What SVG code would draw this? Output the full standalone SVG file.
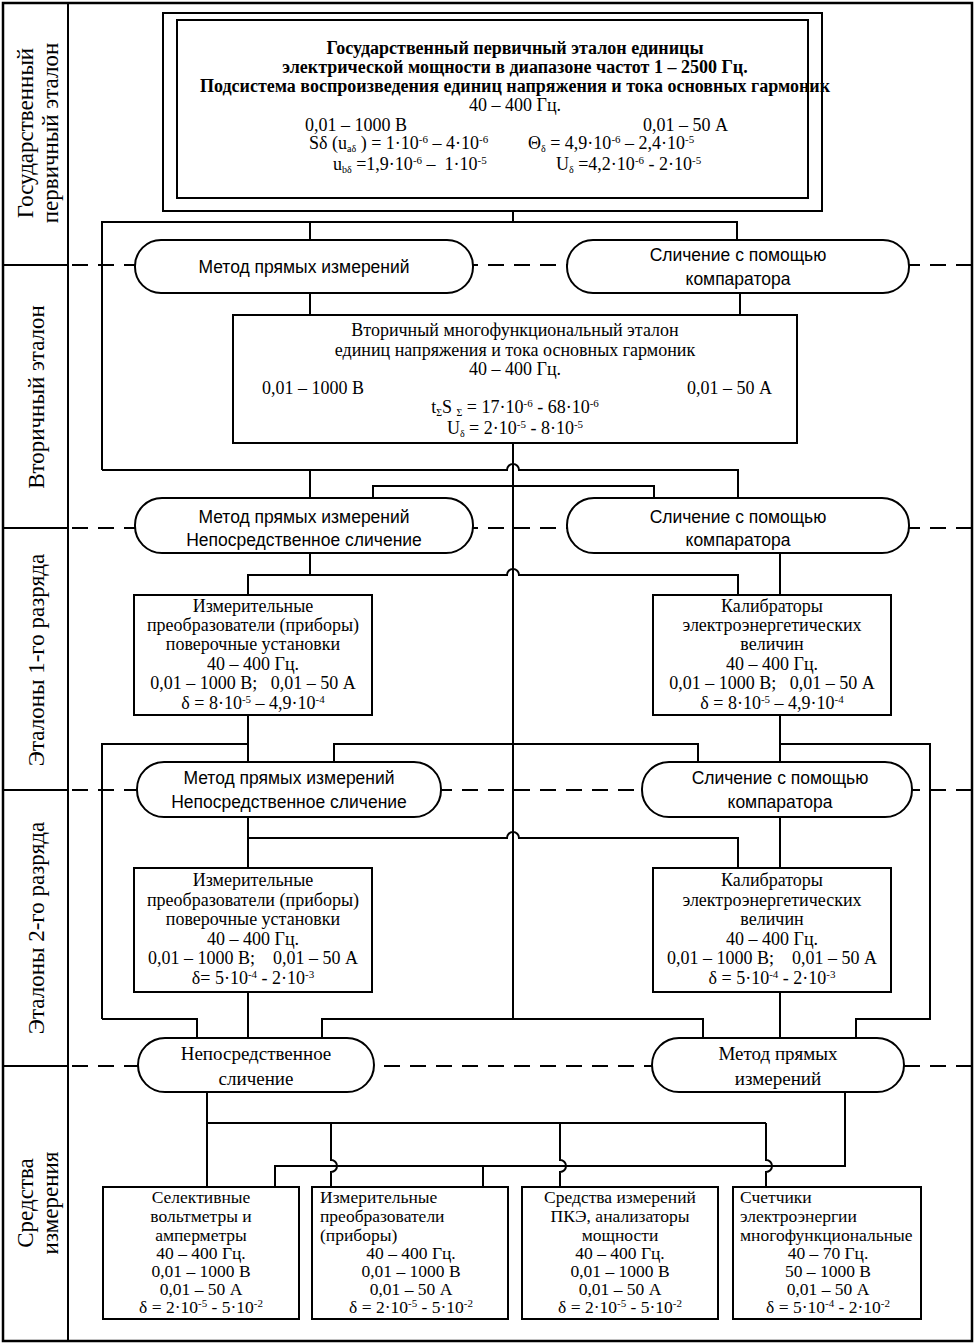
<svg xmlns="http://www.w3.org/2000/svg" width="975" height="1344" viewBox="0 0 975 1344">
<style>
.bx{fill:#fff;stroke:#000;stroke-width:2}
.pl{fill:#fff;stroke:#000;stroke-width:2}
.cn{fill:none;stroke:#000;stroke-width:2}
.ds{fill:none;stroke:#000;stroke-width:2;stroke-dasharray:16 10}
.sf{font-family:'Liberation Serif','Times New Roman',serif;font-size:18px;fill:#000}
.tb{font-family:'Liberation Serif','Times New Roman',serif;font-size:18px;fill:#000}
.bd{font-weight:bold}
.ss{font-family:'Liberation Sans',Arial,sans-serif;font-size:17.5px;fill:#000}
.lb{font-family:'Liberation Serif','Times New Roman',serif;font-size:23px;fill:#000}
.bt{font-family:'Liberation Serif','Times New Roman',serif;font-size:17.5px;fill:#000}
.pt{font-family:'Liberation Serif','Times New Roman',serif;font-size:19px;fill:#000}
.sm{font-size:11px}
.sb{font-size:10px}
.c{text-anchor:middle}
.e{text-anchor:end}
</style>

<g id="frame">
<rect x="3" y="3" width="969" height="1338" fill="#fff" stroke="#000" stroke-width="2.5"/>
<line x1="68" y1="3" x2="68" y2="1341" stroke="#000" stroke-width="2"/>
<path d="M3 265H68M3 528H68M3 790H68M3 1066H68" stroke="#000" stroke-width="2"/>
<path class="ds" d="M72 265H972M72 528H972M72 790H972M72 1066H972"/>
</g>

<g id="row-labels" class="lb c">
<text transform="translate(33,133) rotate(-90)">Государственный</text>
<text transform="translate(58,133) rotate(-90)">первичный эталон</text>
<text transform="translate(44,397) rotate(-90)">Вторичный эталон</text>
<text transform="translate(44,660) rotate(-90)">Эталоны 1-го разряда</text>
<text transform="translate(44,928) rotate(-90)">Эталоны 2-го разряда</text>
<text transform="translate(33,1203) rotate(-90)">Средства</text>
<text transform="translate(58,1203) rotate(-90)">измерения</text>
</g>

<g id="connectors" class="cn">
<path d="M513 211V222"/>
<path d="M102 470V222H737V240"/>
<path d="M310 222V240"/>
<path d="M102 470H507A6 6 0 0 1 519 470H738V498"/>
<path d="M310 470V498"/>
<path d="M310 293V315"/>
<path d="M740 293V315"/>
<path d="M513 443V1019"/>
<path d="M373 498V486H654V498"/>
<path d="M310 553V575"/>
<path d="M248 595V575H507A6 6 0 0 1 519 575H738V595"/>
<path d="M780 553V595"/>
<path d="M248 715V762"/>
<path d="M102 1019V744H248"/>
<path d="M334 762V744H698V762"/>
<path d="M780 715V762"/>
<path d="M780 744H930V1019H856V1038"/>
<path d="M102 1019H197V1038"/>
<path d="M248 817V868"/>
<path d="M248 838H507A6 6 0 0 1 519 838H738V868"/>
<path d="M780 817V868"/>
<path d="M248 992V1038"/>
<path d="M322 1038V1019H703V1038"/>
<path d="M780 992V1038"/>
<path d="M207 1092V1187"/>
<path d="M207 1123H766"/>
<path d="M331 1123V1160A6 6 0 0 1 331 1172V1187"/>
<path d="M560 1123V1160A6 6 0 0 1 560 1172V1187"/>
<path d="M766 1123V1160A6 6 0 0 1 766 1172V1187"/>
<path d="M845 1092V1166H275V1187"/>
<path d="M483 1166V1187"/>
</g>

<g id="primary">
<rect class="bx" x="163" y="13" width="659" height="198"/>
<rect class="bx" x="177" y="20" width="631" height="178"/>
<g class="tb">
<text class="c bd" x="515" y="54">Государственный первичный эталон единицы</text>
<text class="c bd" x="515" y="73">электрической мощности в диапазоне частот 1 – 2500 Гц.</text>
<text class="c bd" x="515" y="92">Подсистема воспроизведения единиц напряжения и тока основных гармоник</text>
<text class="c" x="515" y="111">40 – 400 Гц.</text>
<text x="305" y="131">0,01 – 1000 В</text>
<text class="e" x="728" y="131">0,01 – 50 А</text>
<text x="309" y="149">Sδ (u<tspan dy="3" class="sb">aδ</tspan><tspan dy="-3"> ) = 1·10</tspan><tspan dy="-6" class="sm">-6</tspan><tspan dy="6"> – 4·10</tspan><tspan dy="-6" class="sm">-6</tspan></text>
<text x="528" y="149">Θ<tspan dy="3" class="sb">δ</tspan><tspan dy="-3"> = 4,9·10</tspan><tspan dy="-6" class="sm">-6</tspan><tspan dy="6"> – 2,4·10</tspan><tspan dy="-6" class="sm">-5</tspan></text>
<text x="333" y="170" xml:space="preserve">u<tspan dy="3" class="sb">bδ</tspan><tspan dy="-3"> =1,9·10</tspan><tspan dy="-6" class="sm">-6</tspan><tspan dy="6"> –  1·10</tspan><tspan dy="-6" class="sm">-5</tspan></text>
<text x="556" y="170">U<tspan dy="3" class="sb">δ</tspan><tspan dy="-3"> =4,2·10</tspan><tspan dy="-6" class="sm">-6</tspan><tspan dy="6"> - 2·10</tspan><tspan dy="-6" class="sm">-5</tspan></text>
</g>
</g>

<g id="p1">
<rect class="pl" x="135" y="240" width="338" height="53" rx="26" ry="26"/>
<text class="ss c" x="304" y="273">Метод прямых измерений</text>
</g>
<g id="p2">
<rect class="pl" x="567" y="240" width="342" height="53" rx="26" ry="26"/>
<text class="ss c" x="738" y="261">Сличение с помощью</text>
<text class="ss c" x="738" y="285">компаратора</text>
</g>

<g id="secondary">
<rect class="bx" x="233" y="315" width="564" height="128"/>
<g class="sf">
<text class="c" x="515" y="336">Вторичный многофункциональный эталон</text>
<text class="c" x="515" y="356">единиц напряжения и тока основных гармоник</text>
<text class="c" x="515" y="375">40 – 400 Гц.</text>
<text x="262" y="394">0,01 – 1000 В</text>
<text class="e" x="772" y="394">0,01 – 50 А</text>
<text class="c" x="515" y="413">t<tspan dy="3" class="sb">Σ</tspan><tspan dy="-3">S </tspan><tspan dy="3" class="sb">Σ</tspan><tspan dy="-3"> = 17·10</tspan><tspan dy="-6" class="sm">-6</tspan><tspan dy="6"> - 68·10</tspan><tspan dy="-6" class="sm">-6</tspan></text>
<text class="c" x="515" y="434">U<tspan dy="3" class="sb">δ</tspan><tspan dy="-3"> = 2·10</tspan><tspan dy="-6" class="sm">-5</tspan><tspan dy="6"> - 8·10</tspan><tspan dy="-6" class="sm">-5</tspan></text>
</g>
</g>

<g id="p3">
<rect class="pl" x="135" y="498" width="338" height="55" rx="27" ry="27"/>
<text class="ss c" x="304" y="523">Метод прямых измерений</text>
<text class="ss c" x="304" y="546">Непосредственное сличение</text>
</g>
<g id="p4">
<rect class="pl" x="567" y="498" width="342" height="55" rx="27" ry="27"/>
<text class="ss c" x="738" y="523">Сличение с помощью</text>
<text class="ss c" x="738" y="546">компаратора</text>
</g>

<g id="c1">
<rect class="bx" x="134" y="595" width="238" height="120"/>
<g class="sf c">
<text x="253" y="612">Измерительные</text>
<text x="253" y="631">преобразователи (приборы)</text>
<text x="253" y="650">поверочные установки</text>
<text x="253" y="669.5">40 – 400 Гц.</text>
<text x="253" y="689" xml:space="preserve">0,01 – 1000 В;   0,01 – 50 А</text>
<text x="253" y="708.5">δ = 8·10<tspan dy="-6" class="sm">-5</tspan><tspan dy="6"> – 4,9·10</tspan><tspan dy="-6" class="sm">-4</tspan></text>
</g>
</g>
<g id="d1">
<rect class="bx" x="653" y="595" width="238" height="120"/>
<g class="sf c">
<text x="772" y="612">Калибраторы</text>
<text x="772" y="631">электроэнергетических</text>
<text x="772" y="650">величин</text>
<text x="772" y="669.5">40 – 400 Гц.</text>
<text x="772" y="689" xml:space="preserve">0,01 – 1000 В;   0,01 – 50 А</text>
<text x="772" y="708.5">δ = 8·10<tspan dy="-6" class="sm">-5</tspan><tspan dy="6"> – 4,9·10</tspan><tspan dy="-6" class="sm">-4</tspan></text>
</g>
</g>

<g id="p5">
<rect class="pl" x="137" y="762" width="304" height="55" rx="27" ry="27"/>
<text class="ss c" x="289" y="784">Метод прямых измерений</text>
<text class="ss c" x="289" y="808">Непосредственное сличение</text>
</g>
<g id="p6">
<rect class="pl" x="642" y="762" width="270" height="55" rx="27" ry="27"/>
<text class="ss c" x="780" y="784">Сличение с помощью</text>
<text class="ss c" x="780" y="808">компаратора</text>
</g>

<g id="c2">
<rect class="bx" x="134" y="868" width="238" height="124"/>
<g class="sf c">
<text x="253" y="886">Измерительные</text>
<text x="253" y="905.5">преобразователи (приборы)</text>
<text x="253" y="925">поверочные установки</text>
<text x="253" y="944.5">40 – 400 Гц.</text>
<text x="253" y="964" xml:space="preserve">0,01 – 1000 В;    0,01 – 50 А</text>
<text x="253" y="983.5">δ= 5·10<tspan dy="-6" class="sm">-4</tspan><tspan dy="6"> - 2·10</tspan><tspan dy="-6" class="sm">-3</tspan></text>
</g>
</g>
<g id="d2">
<rect class="bx" x="653" y="868" width="238" height="124"/>
<g class="sf c">
<text x="772" y="886">Калибраторы</text>
<text x="772" y="905.5">электроэнергетических</text>
<text x="772" y="925">величин</text>
<text x="772" y="944.5">40 – 400 Гц.</text>
<text x="772" y="964" xml:space="preserve">0,01 – 1000 В;    0,01 – 50 А</text>
<text x="772" y="983.5">δ = 5·10<tspan dy="-6" class="sm">-4</tspan><tspan dy="6"> - 2·10</tspan><tspan dy="-6" class="sm">-3</tspan></text>
</g>
</g>

<g id="p7">
<rect class="pl" x="138" y="1038" width="236" height="54" rx="27" ry="27"/>
<text class="pt c" x="256" y="1060">Непосредственное</text>
<text class="pt c" x="256" y="1085">сличение</text>
</g>
<g id="p8">
<rect class="pl" x="652" y="1038" width="252" height="54" rx="27" ry="27"/>
<text class="pt c" x="778" y="1060">Метод прямых</text>
<text class="pt c" x="778" y="1085">измерений</text>
</g>

<g id="m1">
<rect class="bx" x="103" y="1187" width="196" height="132"/>
<g class="bt c">
<text x="201" y="1203">Селективные</text>
<text x="201" y="1222">вольтметры и</text>
<text x="201" y="1241">амперметры</text>
<text x="201" y="1259">40 – 400 Гц.</text>
<text x="201" y="1277">0,01 – 1000 В</text>
<text x="201" y="1295">0,01 – 50 А</text>
<text x="201" y="1313">δ = 2·10<tspan dy="-6" class="sm">-5</tspan><tspan dy="6"> - 5·10</tspan><tspan dy="-6" class="sm">-2</tspan></text>
</g>
</g>
<g id="m2">
<rect class="bx" x="312" y="1187" width="196" height="132"/>
<g class="bt">
<text x="320" y="1203">Измерительные</text>
<text x="320" y="1222">преобразователи</text>
<text x="320" y="1241">(приборы)</text>
<text class="c" x="411" y="1259">40 – 400 Гц.</text>
<text class="c" x="411" y="1277">0,01 – 1000 В</text>
<text class="c" x="411" y="1295">0,01 – 50 А</text>
<text class="c" x="411" y="1313">δ = 2·10<tspan dy="-6" class="sm">-5</tspan><tspan dy="6"> - 5·10</tspan><tspan dy="-6" class="sm">-2</tspan></text>
</g>
</g>
<g id="m3">
<rect class="bx" x="522" y="1187" width="196" height="132"/>
<g class="bt c">
<text x="620" y="1203">Средства измерений</text>
<text x="620" y="1222">ПКЭ, анализаторы</text>
<text x="620" y="1241">мощности</text>
<text x="620" y="1259">40 – 400 Гц.</text>
<text x="620" y="1277">0,01 – 1000 В</text>
<text x="620" y="1295">0,01 – 50 А</text>
<text x="620" y="1313">δ = 2·10<tspan dy="-6" class="sm">-5</tspan><tspan dy="6"> - 5·10</tspan><tspan dy="-6" class="sm">-2</tspan></text>
</g>
</g>
<g id="m4">
<rect class="bx" x="733" y="1187" width="188" height="132"/>
<g class="bt">
<text x="740" y="1203">Счетчики</text>
<text x="740" y="1222">электроэнергии</text>
<text x="740" y="1241">многофункциональные</text>
<text class="c" x="828" y="1259">40 – 70 Гц.</text>
<text class="c" x="828" y="1277">50 – 1000 В</text>
<text class="c" x="828" y="1295">0,01 – 50 А</text>
<text class="c" x="828" y="1313">δ = 5·10<tspan dy="-6" class="sm">-4</tspan><tspan dy="6"> - 2·10</tspan><tspan dy="-6" class="sm">-2</tspan></text>
</g>
</g>
</svg>
